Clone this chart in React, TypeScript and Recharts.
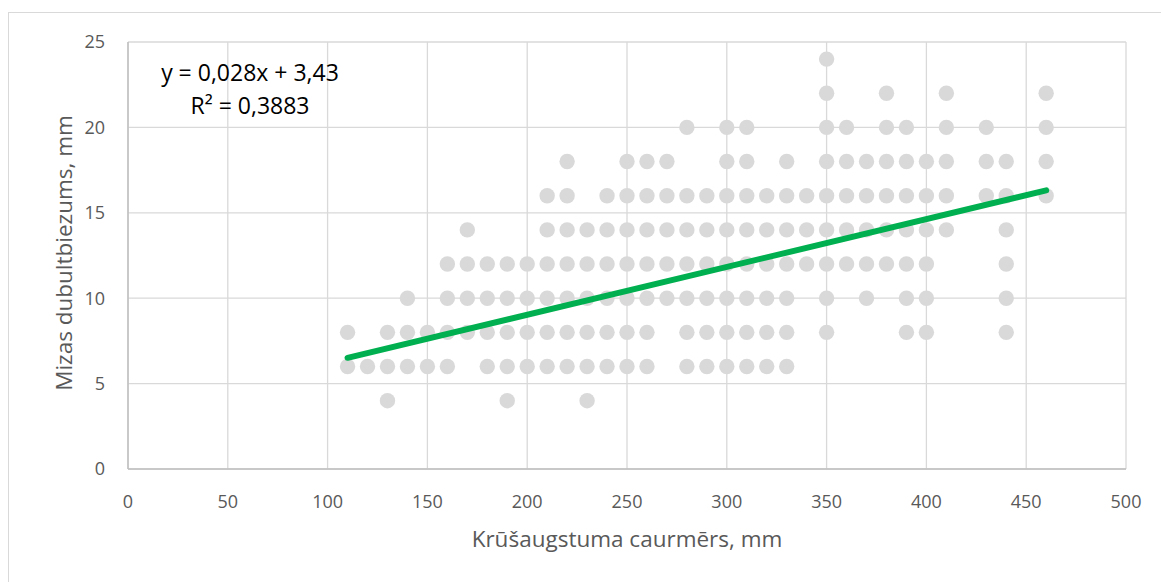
import React from 'react';
import {
  ScatterChart,
  Scatter,
  XAxis,
  YAxis,
  CartesianGrid,
  Customized,
} from 'recharts';

// Chest-height girth classes, mm
const girthClasses = [
  110, 120, 130, 140, 150, 160, 170, 180, 190, 200, 210, 220, 230, 240, 250, 260, 270, 280,
  290, 300, 310, 320, 330, 340, 350, 360, 370, 380, 390, 400, 410, 430, 440, 460,
];

// Double bark thickness values observed in each girth class, mm
const barkThickness = [
  [8, 6],
  [6],
  [8, 6, 4],
  [10, 8, 6],
  [8, 6],
  [12, 10, 8, 6],
  [14, 12, 10, 8],
  [12, 10, 8, 6],
  [12, 10, 8, 6, 4],
  [12, 10, 8, 6],
  [16, 14, 12, 10, 8, 6],
  [18, 16, 14, 12, 10, 8, 6],
  [14, 12, 10, 8, 6, 4],
  [16, 14, 12, 10, 8, 6],
  [18, 16, 14, 12, 10, 8, 6],
  [18, 16, 14, 12, 10, 8, 6],
  [18, 16, 14, 12, 10],
  [20, 16, 14, 12, 10, 8, 6],
  [16, 14, 12, 10, 8, 6],
  [20, 18, 16, 14, 12, 10, 8, 6],
  [20, 18, 16, 14, 12, 10, 8, 6],
  [16, 14, 12, 10, 8, 6],
  [18, 16, 14, 12, 10, 8, 6],
  [16, 14, 12],
  [24, 22, 20, 18, 16, 14, 12, 10, 8],
  [20, 18, 16, 14, 12],
  [18, 16, 14, 12, 10],
  [22, 20, 18, 16, 14, 12],
  [20, 18, 16, 14, 12, 10, 8],
  [18, 16, 14, 12, 10, 8],
  [22, 20, 18, 16, 14],
  [20, 18, 16],
  [18, 16, 14, 12, 10, 8],
  [22, 20, 18, 16],
];

// Linear trend: y = 0,028x + 3,43
const trendSlope = 0.028;
const trendIntercept = 3.43;
const trendRange = [110, 460];

const xTicks = [0, 50, 100, 150, 200, 250, 300, 350, 400, 450, 500];
const yTicks = [0, 5, 10, 15, 20, 25];

const equationLines = ['y = 0,028x + 3,43', 'R² = 0,3883'];
const xTitle = 'Krūšaugstuma caurmērs, mm';
const yTitle = 'Mizas dubultbiezums, mm';

const points = girthClasses.flatMap((x, i) => barkThickness[i].map((y) => ({ x, y })));
const trendPoints = trendRange.map((x) => ({ x, y: trendSlope * x + trendIntercept }));

const FONT = '"Open Sans", sans-serif';
const TEXT = '#595959';

const Dot = (props: any) => <circle cx={props.cx} cy={props.cy} r={7.7} fill="#D9D9D9" />;
const NoDot = () => <g />;

const Titles = () => (
  <g fontFamily={FONT}>
    <text x={618} y={534} textAnchor="middle" fontSize={22.5} fill={TEXT}>
      {xTitle}
    </text>
    <text
      x={63}
      y={240}
      textAnchor="middle"
      fontSize={22.5}
      fill={TEXT}
      transform="rotate(-90, 63, 240)"
    >
      {yTitle}
    </text>
    <text x={241} y={68} textAnchor="middle" fontSize={23} fill="#000">
      {equationLines[0]}
    </text>
    <text x={241} y={101} textAnchor="middle" fontSize={23} fill="#000">
      {equationLines[1]}
    </text>
  </g>
);

export default function App() {
  return (
    <div
      style={{
        position: 'absolute',
        left: 8,
        top: 12,
        width: 1160,
        height: 580,
        border: '1px solid #D9D9D9',
        background: '#fff',
      }}
    >
      <ScatterChart
        width={1150}
        height={560}
        margin={{ top: 29, right: 33, bottom: 0, left: 0 }}
      >
        <CartesianGrid stroke="#D9D9D9" strokeWidth={1.3} />
        <XAxis
          type="number"
          dataKey="x"
          domain={[0, 500]}
          ticks={xTicks}
          interval={0}
          height={104}
          tickLine={false}
          tickSize={0}
          tickMargin={26}
          axisLine={{ stroke: '#BFBFBF', strokeWidth: 1.5 }}
          tick={{ fill: TEXT, fontSize: 18, fontFamily: FONT }}
        />
        <YAxis
          type="number"
          dataKey="y"
          domain={[0, 25]}
          ticks={yTicks}
          interval={0}
          width={119}
          tickLine={false}
          tickSize={0}
          tickMargin={23}
          axisLine={{ stroke: '#BFBFBF', strokeWidth: 1.5 }}
          tick={{ fill: TEXT, fontSize: 18, fontFamily: FONT }}
        />
        <Scatter data={points} shape={Dot} isAnimationActive={false} />
        <Scatter
          data={trendPoints}
          shape={NoDot}
          line={{ stroke: '#00B050', strokeWidth: 6, strokeLinecap: 'round' }}
          isAnimationActive={false}
        />
        <Customized component={Titles} />
      </ScatterChart>
    </div>
  );
}
